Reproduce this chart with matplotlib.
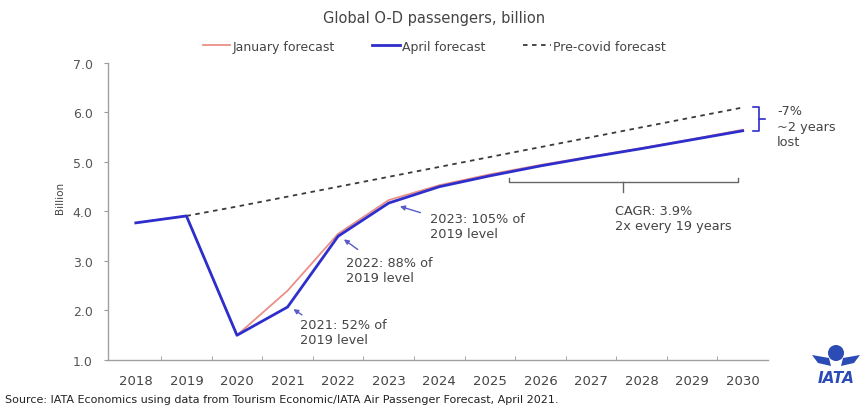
import matplotlib
matplotlib.use("Agg")
import matplotlib.pyplot as plt
import numpy as np
from matplotlib.patches import Ellipse, Polygon

plt.rcParams['font.family'] = ['DejaVu Sans']

years = ["2018", "2019", "2020", "2021", "2022", "2023", "2024",
         "2025", "2026", "2027", "2028", "2029", "2030"]
january = [3.77, 3.91, 1.50, 2.40, 3.55, 4.23, 4.53, 4.75, 4.94, 5.11, 5.28, 5.46, 5.65]
april = [3.77, 3.91, 1.50, 2.07, 3.50, 4.17, 4.50, 4.72, 4.92, 5.10, 5.27, 5.45, 5.63]
precovid = [np.nan, 3.91, 4.10, 4.30, 4.50, 4.70, 4.90, 5.10, 5.30, 5.50, 5.70, 5.90, 6.10]
yticks = [1.0, 2.0, 3.0, 4.0, 5.0, 6.0, 7.0]

BLUE = "#2e2ecc"
RED = "#ea8f88"
GRAY = "#555555"
ARROW = "#5a5ac8"
TXT = "#444444"

fig = plt.figure(figsize=(8.6, 4.1), dpi=100)
ax = fig.add_axes([0.1256, 0.1195, 0.7674, 0.7245])
x = np.arange(len(years))

ax.plot(x, precovid, color="#3a3a3a", lw=1.3, ls=(0, (2.5, 2.5)), label="Pre-covid forecast")
ax.plot(x, january, color=RED, lw=1.3, label="January forecast")
ax.plot(x, april, color=BLUE, lw=2.0, label="April forecast")

ax.set_xlim(-0.55, 12.5)
ax.set_ylim(1.0, 7.0)
ax.set_yticks(yticks)
ax.set_yticklabels([f"{v:.1f}" for v in yticks], color=GRAY, fontsize=9)
ax.set_xticks(x)
ax.set_xticklabels(years, color=TXT, fontsize=9.5)
ax.set_xticks(np.arange(0.5, 12.5, 1.0), minor=True)
ax.tick_params(axis='x', which='major', length=0, pad=10)
ax.tick_params(axis='x', which='minor', length=3, direction='in', color="#999999")
ax.tick_params(axis='y', length=3, color="#999999", pad=8)
for s in ['top', 'right']:
    ax.spines[s].set_visible(False)
for s in ['left', 'bottom']:
    ax.spines[s].set_color("#a0a0a0")
    ax.spines[s].set_linewidth(1.0)

fig.text(0.07, 0.517, "Billion", rotation=90, ha='center', va='center', fontsize=7.5, color=TXT)
fig.text(0.505, 0.955, "Global O-D passengers, billion", ha='center', va='center', fontsize=10.5, color=TXT)

h, l = ax.get_legend_handles_labels()
order = [1, 2, 0]
fig.legend([h[i] for i in order], [l[i] for i in order], loc='center', ncol=3,
           bbox_to_anchor=(0.505, 0.885), frameon=False, fontsize=9,
           handlelength=2.2, handletextpad=0.2, columnspacing=3.0, labelcolor=TXT)

# annotations
ak = dict(arrowstyle='-|>', color=ARROW, lw=1.0, mutation_scale=7)
fs = 9.3
ax.annotate("", xy=(3.07, 2.06), xytext=(3.33, 1.88), arrowprops=ak)
ax.text(3.25, 1.84, "2021: 52% of\n2019 level", va='top', ha='left', fontsize=fs, color=TXT, linespacing=1.2)
ax.annotate("", xy=(4.07, 3.47), xytext=(4.43, 3.2), arrowprops=ak)
ax.text(4.16, 3.10, "2022: 88% of\n2019 level", va='top', ha='left', fontsize=fs, color=TXT, linespacing=1.2)
ax.annotate("", xy=(5.17, 4.12), xytext=(5.68, 3.96), arrowprops=ak)
ax.text(5.82, 3.99, "2023: 105% of\n2019 level", va='top', ha='left', fontsize=fs, color=TXT, linespacing=1.2)

# CAGR bracket
bc = "#666666"
ax.plot([7.37, 7.37, 11.9, 11.9], [4.67, 4.6, 4.6, 4.67], color=bc, lw=1.0)
ax.plot([9.64, 9.64], [4.6, 4.40], color=bc, lw=1.0)
ax.text(9.47, 4.16, "CAGR: 3.9%\n2x every 19 years", va='top', ha='left', fontsize=fs, color=TXT, linespacing=1.2)

# right bracket
ax.plot([12.2, 12.33, 12.33, 12.2], [6.11, 6.11, 5.63, 5.63], color=BLUE, lw=1.2, clip_on=False)
ax.plot([12.33, 12.45], [5.87, 5.87], color=BLUE, lw=1.2, clip_on=False)
ax.text(12.68, 6.17, "-7%\n~2 years\nlost", va='top', ha='left', fontsize=fs, color=TXT, linespacing=1.25, clip_on=False)

# source
fig.text(0.006, 0.013, "Source: IATA Economics using data from Tourism Economic/IATA Air Passenger Forecast, April 2021.",
         fontsize=8, color="#222222", ha='left', va='bottom')

# IATA logo
W, H = 860, 410
def fx(px): return px / W
def fy(py): return 1 - py / H
LB = "#2b4bb5"
fig.patches.append(Ellipse((fx(836), fy(354)), 16 / W, 16 / H, transform=fig.transFigure,
                           facecolor=LB, edgecolor='none'))
fig.patches.append(Polygon([(fx(812), fy(356)), (fx(829), fy(359)), (fx(831), fy(367)), (fx(818), fy(364))],
                           closed=True, transform=fig.transFigure, facecolor=LB, edgecolor='none'))
fig.patches.append(Polygon([(fx(860), fy(356)), (fx(843), fy(359)), (fx(841), fy(367)), (fx(854), fy(364))],
                           closed=True, transform=fig.transFigure, facecolor=LB, edgecolor='none'))
fig.text(fx(836), fy(379), "IATA", ha='center', va='center', fontsize=11, fontweight='bold',
         fontstyle='italic', color=LB)

fig.savefig("out.png", dpi=100, facecolor='white')
